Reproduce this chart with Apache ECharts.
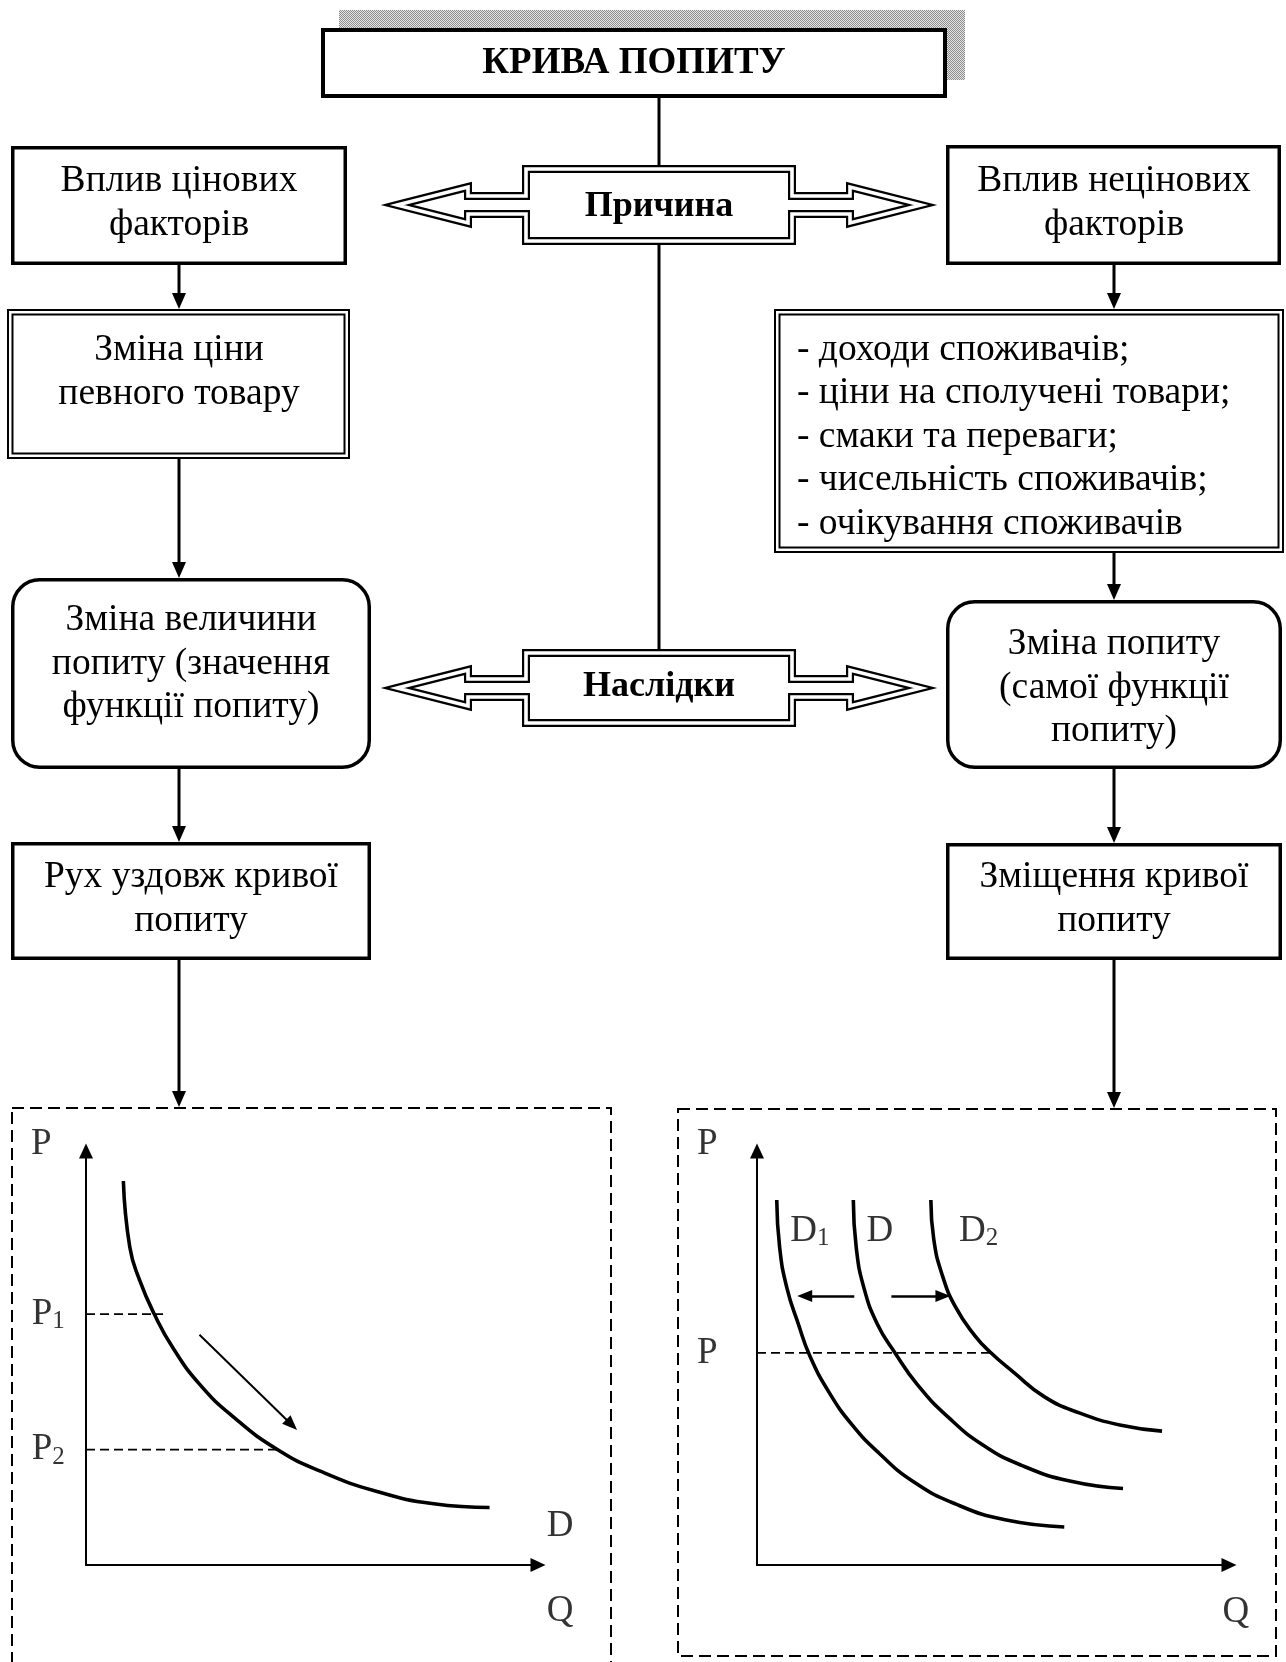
<!DOCTYPE html>
<html><head><meta charset="utf-8">
<script src="https://cdn.jsdelivr.net/npm/echarts@6/dist/echarts.min.js"></script>
<style>html,body{margin:0;padding:0;background:#fff}#c{width:1286px;height:1662px}</style>
</head><body><div id="c"></div>
<script>
// ================= DATA =================
const titleText = 'КРИВА ПОПИТУ';
const hubTexts = ['Причина', 'Наслідки'];
const priceColumn = ['Вплив цінових\nфакторів', 'Зміна ціни\nпевного товару', 'Зміна величини\nпопиту (значення\nфункції попиту)', 'Рух уздовж кривої\nпопиту'];
const nonPriceColumn = ['Вплив нецінових\nфакторів', 'Зміна попиту\n(самої функції\nпопиту)', 'Зміщення кривої\nпопиту'];
const nonPriceFactors = ['- доходи споживачів;', '- ціни на сполучені товари;', '- смаки та переваги;', '- чисельність споживачів;', '- очікування споживачів'];

// Left graph: movement along the demand curve
const demandQ = [0.81, 0.95, 1.16, 1.48, 1.89, 2.47, 3.20, 4.14, 5.08, 6.31, 7.54, 8.75];
const demandP = [9.09, 7.52, 6.75, 5.94, 5.13, 4.27, 3.50, 2.74, 2.22, 1.74, 1.45, 1.36];
const priceTickMain = ['P', 'P'];
const priceTickSub = ['1', '2'];
const priceTickValues = [5.94, 2.73];
const priceTickReach = [1.67, 4.15];
const moveArrowQ = [2.46, 4.46];
const moveArrowP = [5.45, 3.32];

// Right graph: shift of the demand curve
const d1Q = [0.41, 0.47, 0.62, 0.86, 1.10, 1.50, 1.98, 2.54, 3.25, 4.13, 5.15, 6.38];
const d1P = [8.64, 7.52, 6.56, 5.70, 4.94, 4.08, 3.31, 2.64, 1.97, 1.44, 1.07, 0.90];
const d0Q = [2.00, 2.06, 2.22, 2.50, 2.86, 3.33, 3.97, 4.69, 5.49, 6.52, 7.60];
const d0P = [8.64, 7.52, 6.56, 5.70, 5.03, 4.27, 3.50, 2.84, 2.36, 1.98, 1.81];
const d2Q = [3.61, 3.67, 3.85, 4.13, 4.53, 4.85, 5.33, 5.97, 6.69, 7.56, 8.41];
const d2P = [8.64, 7.71, 6.85, 6.09, 5.42, 5.03, 4.56, 3.98, 3.60, 3.31, 3.17];
const curveMain = ['D', 'D', 'D'];
const curveSub = ['1', '', '2'];
const shiftPrice = 5.02;
const shiftPriceReach = 4.85;
const shiftArrowLevel = 6.37;
const shiftLeftQ = [2.02, 0.99];
const shiftRightQ = [2.79, 3.86];
const axisNames = ['P', 'Q'];

// ================= LAYOUT =================
const FONT = '"Liberation Serif", "Times New Roman", serif';
const G = [];
function box(x, y, w, h, o) {
  o = o || {};
  const lw = o.lw || 3.5;
  G.push({type: 'rect', z: o.z || 10, shape: {x: x + lw / 2, y: y + lw / 2, width: w - lw, height: h - lw, r: o.r || 0},
    style: {fill: o.fill || '#fff', stroke: '#000', lineWidth: lw}});
}
function dbox(x, y, w, h) {
  G.push({type: 'rect', z: 10, shape: {x: x + 1, y: y + 1, width: w - 2, height: h - 2}, style: {fill: '#fff', stroke: '#000', lineWidth: 2}});
  G.push({type: 'rect', z: 11, shape: {x: x + 5.5, y: y + 5.5, width: w - 11, height: h - 11}, style: {fill: 'none', stroke: '#000', lineWidth: 2}});
}
function vline(x, y1, y2, lw) {
  G.push({type: 'line', z: 9, shape: {x1: x, y1: y1, x2: x, y2: y2}, style: {stroke: '#000', lineWidth: lw || 3}});
}
function arrowDown(x, y1, y2) {
  vline(x, y1, y2 - 12);
  G.push({type: 'polygon', z: 12, shape: {points: [[x - 7, y2 - 16], [x + 7, y2 - 16], [x, y2]]}, style: {fill: '#000'}});
}
function txt(s, x, y, o) {
  o = o || {};
  G.push({type: 'text', z: 20, style: {text: s, x: x, y: y, fill: '#000',
    font: (o.bold ? 'bold ' : '') + (o.size || 37.5) + 'px ' + FONT,
    textAlign: o.align || 'center', textVerticalAlign: 'middle', lineHeight: o.lh || 43.5}});
}
function doubleArrow(cy, half) {
  const cx = 659, bl = 526, br = 792, hb = 468, tipL = 397, sh = 9, hh = 18;
  const hbR = 2 * cx - hb, tipR = 2 * cx - tipL;
  const pts = [[tipL, cy], [hb, cy - hh], [hb, cy - sh], [bl, cy - sh], [bl, cy - half], [br, cy - half], [br, cy - sh], [hbR, cy - sh], [hbR, cy - hh], [tipR, cy],
    [hbR, cy + hh], [hbR, cy + sh], [br, cy + sh], [br, cy + half], [bl, cy + half], [bl, cy + sh], [hb, cy + sh], [hb, cy + hh]];
  G.push({type: 'polygon', z: 10, shape: {points: pts}, style: {fill: '#fff', stroke: '#000', lineWidth: 8, lineJoin: 'miter'}});
  G.push({type: 'polygon', z: 11, shape: {points: pts}, style: {fill: 'none', stroke: '#fff', lineWidth: 3.6, lineJoin: 'miter'}});
}

// halftone pattern for the title shadow
const pc = document.createElement('canvas');
pc.width = 2; pc.height = 2;
const pcx = pc.getContext('2d');
pcx.fillStyle = '#e6e6e6'; pcx.fillRect(0, 0, 2, 2);
pcx.fillStyle = '#8c8c8c'; pcx.fillRect(0, 0, 1, 1); pcx.fillRect(1, 1, 1, 1);

// title with shadow
G.push({type: 'rect', z: 1, shape: {x: 339, y: 10, width: 626, height: 70}, style: {fill: {image: pc, repeat: 'repeat'}}});
box(321, 28, 626, 70, {lw: 4, z: 5});
txt(titleText, 634, 63, {bold: true, size: 37});

// central spine and hubs
vline(659, 97, 169);
vline(659, 241, 653);
doubleArrow(205, 36);
doubleArrow(688, 35);
txt(hubTexts[0], 659, 207, {bold: true, size: 36});
txt(hubTexts[1], 659, 687, {bold: true, size: 36});

// left column
box(11, 146, 336, 119);
dbox(7, 309, 343, 150);
box(11, 578, 360, 191, {r: 27});
box(11, 842, 360, 118);
txt(priceColumn[0], 179, 203);
txt(priceColumn[1], 179, 372);
txt(priceColumn[2], 191, 664);
txt(priceColumn[3], 191, 899);
arrowDown(179, 265, 309);
arrowDown(179, 459, 578);
arrowDown(179, 769, 842);
arrowDown(179, 960, 1107);

// right column
box(946, 145, 335, 120);
dbox(774, 309, 510, 244);
box(946, 600, 336, 169, {r: 27});
box(946, 843, 336, 117);
txt(nonPriceColumn[0], 1114, 203);
txt(nonPriceFactors.join('\n'), 797, 437, {align: 'left', lh: 43.5});
txt(nonPriceColumn[1], 1114, 688);
txt(nonPriceColumn[2], 1114, 899);
arrowDown(1114, 265, 309);
arrowDown(1114, 553, 600);
arrowDown(1114, 769, 843);
arrowDown(1114, 960, 1108);

// dashed frames for graphs
G.push({type: 'rect', z: 3, shape: {x: 12, y: 1108, width: 599, height: 570}, style: {fill: 'none', stroke: '#000', lineWidth: 2, lineDash: [12, 6]}});
G.push({type: 'rect', z: 3, shape: {x: 678, y: 1109, width: 598, height: 547}, style: {fill: 'none', stroke: '#000', lineWidth: 2, lineDash: [12, 6]}});

// ================= CHART =================
const rich = {
  m: {fontFamily: FONT, fontSize: 37, color: '#000', lineHeight: 40},
  s: {fontFamily: FONT, fontSize: 25, color: '#000', lineHeight: 22, verticalAlign: 'bottom'}
};
function lab(main, sub) { return sub ? '{m|' + main + '}{s|' + sub + '}' : '{m|' + main + '}'; }
function axisPair(gi) {
  const line = {show: true, onZero: true, symbol: ['none', 'triangle'], symbolSize: [14, 15], lineStyle: {color: '#000', width: 2}};
  return {
    x: {type: 'value', gridIndex: gi, min: 0, max: 9.8, axisLine: line, axisTick: {show: false}, axisLabel: {show: false}, splitLine: {show: false}},
    y: {type: 'value', gridIndex: gi, min: 0, max: 9.8, axisLine: line, axisTick: {show: false}, axisLabel: {show: false}, splitLine: {show: false}}
  };
}
const a0 = axisPair(0), a1 = axisPair(1);
function zip(q, p) { return q.map(function (v, i) { return [v, p[i]]; }); }
function curve(gi, q, p) {
  return {type: 'line', xAxisIndex: gi, yAxisIndex: gi, data: zip(q, p), smooth: 0.5, symbol: 'none', silent: true,
    lineStyle: {color: '#000', width: 3.6, join: 'round'}, z: 5};
}
function dashed(gi, reach, level) {
  return {type: 'line', xAxisIndex: gi, yAxisIndex: gi, data: [[0, level], [reach, level]], symbol: 'none', silent: true,
    lineStyle: {color: '#000', width: 1.8, type: [9, 5]}, z: 4};
}
function arrowSeries(gi, pairs, width) {
  return {type: 'line', xAxisIndex: gi, yAxisIndex: gi, data: [], silent: true,
    markLine: {silent: true, symbol: ['none', 'triangle'], symbolSize: [12, 15], label: {show: false},
      lineStyle: {color: '#000', width: width, type: 'solid'}, emphasis: {disabled: true},
      data: pairs.map(function (pr) { return [{coord: pr[0]}, {coord: pr[1]}]; })}};
}
function labels(gi, items) {
  return {type: 'scatter', xAxisIndex: gi, yAxisIndex: gi, symbolSize: 0, clip: false, silent: true, z: 6,
    data: items.map(function (it) { return {value: [it[0], it[1]], label: {show: true, position: 'inside', formatter: it[2], rich: rich}}; })};
}

const option = {
  animation: false,
  backgroundColor: '#fff',
  graphic: {elements: G},
  grid: [
    {left: 86, top: 1151, width: 452, height: 414, outerBoundsMode: 'none', containLabel: false},
    {left: 757, top: 1151, width: 472, height: 414, outerBoundsMode: 'none', containLabel: false}
  ],
  xAxis: [a0.x, a1.x],
  yAxis: [a0.y, a1.y],
  series: [
    curve(0, demandQ, demandP),
    dashed(0, priceTickReach[0], priceTickValues[0]),
    dashed(0, priceTickReach[1], priceTickValues[1]),
    arrowSeries(0, [[[moveArrowQ[0], moveArrowP[0]], [moveArrowQ[1], moveArrowP[1]]]], 2),
    labels(0, [
      [-0.97, 9.97, lab(axisNames[0])],
      [10.28, -1.09, lab(axisNames[1])],
      [10.28, 0.92, lab(curveMain[1])],
      [-0.82, priceTickValues[0], lab(priceTickMain[0], priceTickSub[0])],
      [-0.82, priceTickValues[1], lab(priceTickMain[1], priceTickSub[1])]
    ]),
    curve(1, d1Q, d1P),
    curve(1, d0Q, d0P),
    curve(1, d2Q, d2P),
    dashed(1, shiftPriceReach, shiftPrice),
    arrowSeries(1, [
      [[shiftLeftQ[0], shiftArrowLevel], [shiftLeftQ[1], shiftArrowLevel]],
      [[shiftRightQ[0], shiftArrowLevel], [shiftRightQ[1], shiftArrowLevel]]
    ], 2.5),
    labels(1, [
      [-1.03, 9.97, lab(axisNames[0])],
      [9.94, -1.11, lab(axisNames[1])],
      [-1.03, shiftPrice, lab(axisNames[0])],
      [1.10, 7.9, lab(curveMain[0], curveSub[0])],
      [2.55, 7.9, lab(curveMain[1], curveSub[1])],
      [4.60, 7.9, lab(curveMain[2], curveSub[2])]
    ])
  ]
};
const chart = echarts.init(document.getElementById('c'), null, {renderer: 'canvas', width: 1286, height: 1662});
chart.setOption(option);
</script>
</body></html>
